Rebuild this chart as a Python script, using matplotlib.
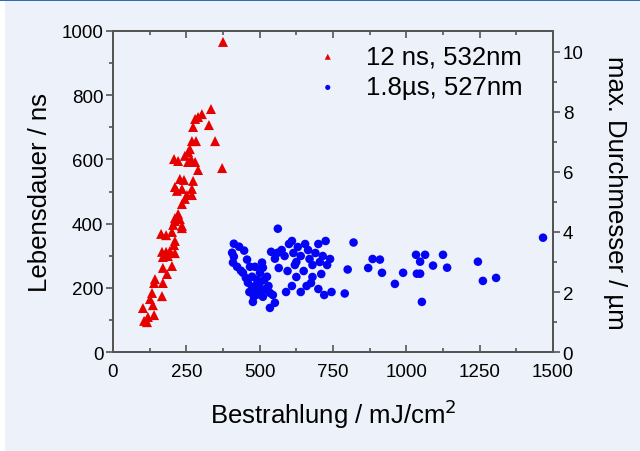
import matplotlib

matplotlib.use("Agg")
import matplotlib.pyplot as plt
from matplotlib.patches import Rectangle
from matplotlib.ticker import MultipleLocator

plt.rcParams["font.family"] = ["Liberation Sans", "DejaVu Sans"]

# 12 ns, 532 nm: Bestrahlung (mJ/cm2) vs. Lebensdauer (ns)
red_x = [375, 334, 303, 290, 280, 273, 327, 269, 283, 348, 262, 256, 245, 266, 208,
         222, 256, 280, 290, 372, 228, 242, 273, 211, 269, 235, 218, 252, 269, 245,
         235, 222, 211, 228, 205, 235, 211, 235, 164, 181, 201, 211, 208, 167, 181,
         194, 211, 170, 187, 201, 170, 184, 143, 170, 140, 133, 167, 126, 136, 102,
         140, 119, 116, 106]
red_y = [966, 757, 741, 732, 726, 701, 707, 657, 657, 657, 632, 623, 611, 601, 601,
         595, 592, 592, 567, 573, 539, 536, 533, 514, 508, 508, 502, 489, 489, 477,
         461, 430, 417, 414, 396, 393, 408, 386, 368, 364, 374, 346, 333, 312, 312,
         315, 308, 296, 299, 268, 262, 243, 227, 215, 215, 184, 174, 165, 146, 137,
         115, 109, 93, 97]

# 1.8 us, 527 nm: Bestrahlung (mJ/cm2) vs. max. Durchmesser (um)
blue_x = [412, 430, 447, 406, 412, 409, 423, 436, 443, 453, 460, 474, 477, 491, 501,
          511, 477, 535, 535, 552, 525, 508, 501, 484, 467, 491, 457, 539, 552, 562,
          562, 511, 474, 465, 485, 495, 505, 520, 500, 515, 480, 530, 545,
          575, 585, 600, 610, 615, 625, 630, 640, 650, 655, 665, 670, 680, 690, 700,
          705, 715, 725, 730, 740, 595, 610, 625, 640, 660, 680, 700, 720, 745, 590,
          565, 620, 675, 710,
          790, 800, 820, 870, 885, 910, 917, 961, 989, 1033, 1064, 1047, 1125, 1091,
          1139, 1036, 1047, 1053, 1244, 1261, 1306, 1466]
blue_y = [3.61, 3.51, 3.38, 3.31, 3.18, 2.98, 2.84, 2.71, 2.64, 2.47, 2.31, 2.17, 2.01, 1.91, 2.07,
          1.84, 1.67, 1.47, 1.97, 1.64, 2.51, 2.98, 2.64, 2.84, 2.84, 2.41, 3.08, 3.34, 3.11, 4.11,
          3.31, 2.81, 2.51, 2.00, 2.20, 2.00, 1.95, 2.10, 2.30, 2.40, 1.85, 2.20, 1.90,
          3.40, 3.20, 3.60, 3.70, 3.30, 3.00, 3.50, 3.20, 2.70, 3.60, 3.40, 3.10, 2.90, 3.30, 3.60,
          3.00, 3.20, 3.70, 2.90, 3.10, 2.70, 2.20, 2.50, 2.00, 2.20, 2.50, 2.10, 1.90, 2.00, 2.00,
          2.80, 2.90, 2.30, 2.60,
          1.95, 2.75, 3.65, 2.80, 3.10, 3.08, 2.64, 2.27, 2.64, 3.24, 3.24, 3.01, 3.24, 2.88,
          2.81, 2.61, 2.61, 1.67, 3.01, 2.37, 2.47, 3.81]

BG = "#edf1f9"
AXIS = "#555555"

fig = plt.figure(figsize=(6.4, 4.52), dpi=100, facecolor=BG)
# schmaler weisser Rand links und blaue Linie oben
fig.add_artist(Rectangle((0, 0), 5 / 640, 1, transform=fig.transFigure, color="white", lw=0))
fig.add_artist(Rectangle((0, 1 - 2 / 452), 1, 2 / 452, transform=fig.transFigure,
                         color="#2a6db5", lw=0))

ax = fig.add_axes([113 / 640, 1 - 353 / 452, 440 / 640, 321 / 452])
ax.set_facecolor(BG)
ax2 = ax.twinx()

ax.scatter(red_x, red_y, marker="^", s=52, color="#e60000", edgecolors="none",
           label="12 ns, 532nm")
ax2.scatter(blue_x, blue_y, marker="o", s=38, color="#0505f5", edgecolors="none",
            label="1.8µs, 527nm")

ax.set_xlim(0, 1500)
ax.set_ylim(0, 1000)
ax2.set_ylim(0, 10.7)

ax.xaxis.set_major_locator(MultipleLocator(250))
ax.xaxis.set_minor_locator(MultipleLocator(125))
ax.yaxis.set_major_locator(MultipleLocator(200))
ax.yaxis.set_minor_locator(MultipleLocator(100))
ax2.yaxis.set_major_locator(MultipleLocator(2))
ax2.yaxis.set_minor_locator(MultipleLocator(1))

for a in (ax, ax2):
    for sp in a.spines.values():
        sp.set_color(AXIS)
        sp.set_linewidth(1.4)

ax.tick_params(axis="x", which="both", direction="in", top=True, bottom=True,
               color=AXIS, width=1.2, labelsize=13.5, pad=8)
ax.tick_params(axis="x", which="major", length=5)
ax.tick_params(axis="x", which="minor", length=3)
ax.tick_params(axis="y", which="both", direction="out", left=True, right=False,
               color=AXIS, width=1.2, labelsize=13.5, pad=2)
ax.tick_params(axis="y", which="major", length=5)
ax.tick_params(axis="y", which="minor", length=3)
ax2.tick_params(axis="y", which="both", direction="out", color=AXIS, width=1.2,
                labelsize=13.5, pad=2)
ax2.tick_params(axis="y", which="major", length=5)
ax2.tick_params(axis="y", which="minor", length=3)

ax.set_xlabel("Bestrahlung / mJ/cm$^2$", fontsize=18.5, va="center")
ax.set_ylabel("Lebensdauer / ns", fontsize=18.5, va="center")
ax2.set_ylabel("max. Durchmesser / µm", fontsize=18.5, rotation=270, va="center")
ax.xaxis.set_label_coords(0.5, -0.19)
ax.yaxis.set_label_coords(-0.165, 0.5)
ax2.yaxis.set_label_coords(1.14, 0.5)

handles = ax.get_legend_handles_labels()[0] + ax2.get_legend_handles_labels()[0]
labels = ["12 ns, 532nm", "1.8µs, 527nm"]
ax2.legend(handles, labels, loc="upper right", bbox_to_anchor=(0.955, 0.99),
           frameon=False, fontsize=18.5, markerscale=0.6, handletextpad=0.5,
           labelspacing=0.26, borderaxespad=0)

fig.savefig("out.png", dpi=100, facecolor=BG)
